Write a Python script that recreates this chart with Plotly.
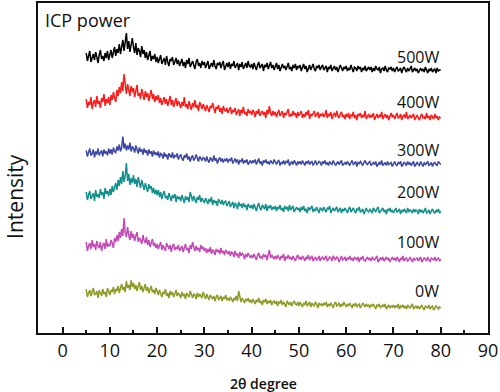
import numpy as np
import plotly.graph_objects as go

# 2-theta sampling grid (degrees), 5..80 in 0.25 steps
two_theta = np.arange(5.0, 80.0001, 0.25)

# Intensity of each sample (arbitrary units), 20 per 5 degrees
i_500W = [18, 10, 15, 20, 9, 13, 17, 11, 19, 14, 8, 16, 21, 12, 15, 10, 18, 13, 20, 11,
          16, 21, 13, 19, 24, 15, 22, 18, 27, 17, 25, 31, 20, 28, 38, 22, 30, 19, 26, 33,
          24, 18, 28, 16, 23, 20, 14, 25, 17, 21, 13, 19, 11, 16, 20, 10, 15, 12, 17, 9,
          14, 8, 12, 16, 7, 11, 13, 6, 15, 9, 5, 12, 10, 14, 6, 9, 13, 7, 11, 5,
          10, 12, 5, 9, 3, 11, 7, 13, 4, 8, 10, 6, 2, 9, 12, 5, 8, 3, 10, 6,
          9, 3, 7, 10, 2, 6, 8, 4, 11, 5, 2, 8, 6, 9, 3, 7, 10, 1, 6, 8,
          4, 9, 2, 7, 5, 10, 3, 6, 8, 1, 7, 4, 9, 2, 6, 8, 3, 10, 5, 4,
          7, 2, 8, 5, 1, 6, 9, 3, 5, 7, 0, 6, 4, 8, 2, 5, 9, 3, 6, 1,
          5, 8, 2, 6, 0, 4, 7, 3, 5, 1, 6, 8, 2, 4, 0, 6, 3, 7, 1, 5,
          3, 6, 0, 4, 7, 2, 5, -1, 3, 6, 1, 4, 7, 2, 0, 5, 3, 6, 1, 4,
          6, 1, 3, 5, -1, 4, 2, 6, 0, 3, 5, 1, 4, -1, 2, 6, 3, 0, 4, 2,
          5, 0, 3, 1, 6, 2, -1, 4, 3, 0, 5, 2, 4, -1, 3, 1, 5, 0, 2, 4,
          1, 4, -1, 3, 0, 5, 2, 1, 4, -2, 2, 3, 0, 5, 1, -1, 3, 2, 4, 0,
          3, -1, 2, 4, 0, 1, 3, -2, 2, 4, 1, -1, 3, 0, 2, 5, -1, 1, 3, 0,
          2, -2, 1, 3, 0, 2, -1, 4, 1, -2, 2, 0, 3, -1, 1, 2, -2, 3, 0, 1,
          1]
i_400W = [19, 10, 16, 13, 21, 9, 15, 18, 11, 22, 14, 17, 10, 20, 16, 24, 12, 19, 15, 21,
          13, 23, 18, 26, 20, 16, 28, 22, 31, 25, 36, 27, 44, 30, 24, 34, 28, 22, 32, 26,
          30, 21, 27, 33, 22, 25, 19, 29, 24, 18, 27, 21, 25, 17, 23, 28, 19, 24, 16, 22,
          18, 23, 15, 20, 13, 17, 21, 14, 19, 12, 16, 22, 13, 18, 11, 15, 20, 12, 17, 14,
          10, 16, 12, 21, 11, 14, 9, 17, 13, 8, 15, 11, 18, 10, 13, 7, 16, 12, 9, 14,
          11, 7, 13, 9, 6, 12, 10, 15, 8, 5, 11, 9, 13, 6, 10, 4, 12, 8, 7, 10,
          5, 9, 11, 4, 8, 6, 10, 3, 7, 9, 2, 8, 5, 11, 4, 6, 2, 9, 5, 7,
          3, 8, 6, 1, 7, 4, 9, 2, 5, 7, 3, 6, 0, 8, 4, 12, 5, 2, 7, 3,
          6, 1, 5, 8, 2, 4, 7, 0, 5, 3, 6, 9, 1, 4, 2, 7, 3, 5, 0, 6,
          2, 5, 7, 0, 4, 1, 6, 3, 8, -1, 4, 2, 5, 7, 1, 3, 6, 0, 4, 2,
          5, 1, 3, 8, 0, 4, 2, 6, -1, 3, 5, 1, 7, 2, 0, 4, 6, 1, 3, -1,
          4, 1, 5, -1, 3, 2, 6, 0, 3, -2, 4, 2, 5, 0, 3, 1, 7, -1, 2, 4,
          0, 3, 1, 5, -2, 2, 4, 0, 3, 1, 6, -1, 2, 4, 0, 3, -2, 2, 5, 1,
          3, -1, 2, 5, 0, 1, 4, -2, 2, 3, 0, 6, -1, 1, 3, 0, 2, 4, -2, 1,
          3, 0, -2, 2, 4, 0, 1, -1, 5, 0, 2, -2, 3, 1, -1, 4, 0, 2, -2, 1,
          0]
i_300W = [14, 8, 12, 16, 9, 11, 15, 7, 13, 10, 16, 9, 12, 14, 8, 15, 11, 13, 9, 16,
          11, 15, 10, 17, 13, 12, 18, 14, 20, 13, 17, 28, 16, 21, 14, 19, 15, 22, 13, 18,
          16, 12, 19, 14, 11, 17, 13, 15, 10, 16, 12, 14, 9, 15, 11, 13, 8, 14, 10, 12,
          9, 13, 7, 11, 10, 6, 12, 8, 10, 5, 11, 9, 7, 12, 6, 9, 8, 11, 5, 8,
          10, 6, 4, 9, 7, 11, 5, 8, 3, 7, 9, 4, 6, 10, 5, 3, 8, 6, 4, 7,
          6, 3, 8, 4, 2, 7, 5, 3, 9, 4, 6, 1, 5, 7, 3, 6, 2, 5, 4, 6,
          2, 5, 4, 7, 1, 3, 6, 2, 5, 0, 4, 3, 6, 1, 4, 2, 5, 0, 3, 4,
          1, 4, 2, 5, 0, 3, 6, 1, 3, -1, 4, 2, 5, 1, 3, 0, 4, 2, 1, 5,
          2, 0, 3, 4, -1, 2, 1, 4, 0, 3, 2, 5, -1, 1, 3, 0, 4, 2, -1, 3,
          1, 3, 0, 4, 2, -1, 3, 1, 4, 0, 2, 3, -1, 2, 4, 0, 1, 3, 2, -1,
          3, 1, 4, 0, 2, -1, 3, 1, 0, 4, 2, -1, 1, 3, 0, 2, 4, -1, 1, 2,
          0, 3, 1, -1, 2, 4, 0, 1, 3, -2, 2, 1, 3, 0, -1, 2, 4, 1, 0, 2,
          3, -1, 1, 2, 0, 3, -2, 1, 2, 0, 4, -1, 1, 2, -1, 3, 0, 1, 2, -2,
          1, 3, 0, -1, 2, 1, 3, -2, 0, 2, 1, -1, 3, 0, 2, -1, 1, 3, -2, 1,
          2, 0, -1, 3, 1, -2, 2, 0, 1, 3, -1, 0, 2, -2, 1, 2, 0, -1, 3, 1,
          0]
i_200W = [20, 12, 17, 21, 13, 16, 19, 11, 22, 15, 18, 14, 23, 17, 20, 13, 24, 18, 21, 16,
          23, 17, 26, 20, 24, 29, 22, 32, 26, 35, 28, 41, 30, 36, 49, 31, 38, 27, 34, 29,
          37, 28, 33, 25, 35, 30, 24, 32, 27, 22, 29, 25, 20, 28, 23, 26, 19, 24, 18, 22,
          17, 22, 15, 20, 13, 18, 21, 14, 16, 12, 19, 15, 11, 17, 14, 18, 10, 16, 13, 15,
          11, 17, 13, 9, 16, 12, 15, 10, 20, 14, 11, 16, 13, 9, 15, 12, 17, 10, 14, 12,
          9, 14, 11, 8, 13, 10, 15, 7, 12, 9, 11, 6, 13, 10, 8, 12, 7, 10, 11, 6,
          9, 11, 5, 8, 10, 4, 9, 7, 3, 10, 6, 8, 4, 9, 5, 7, 2, 8, 6, 4,
          7, 3, 8, 5, 1, 6, 9, 4, 2, 7, 5, 3, 8, 1, 6, 4, 7, 2, 5, 3,
          6, 1, 5, 3, 7, 2, 4, 0, 6, 3, 5, 1, 7, 2, 4, 6, 0, 3, 5, 2,
          4, 0, 5, 2, 6, 1, 3, -1, 5, 2, 4, 6, 0, 3, 1, 5, 2, -1, 4, 3,
          1, 5, 2, 0, 4, 3, 6, -1, 2, 4, 1, 3, 5, 0, 2, 4, -1, 3, 1, 4,
          2, -1, 3, 5, 0, 2, 4, 1, -1, 3, 2, 5, 0, 1, 3, -2, 2, 4, 1, 0,
          3, 1, -1, 4, 2, 0, 3, 5, -1, 1, 2, 4, 0, 2, -2, 3, 1, 4, 0, 2,
          -1, 2, 4, 0, 1, 3, -2, 2, 0, 3, 1, -1, 4, 0, 2, 1, -1, 3, 0, 2,
          1, -2, 3, 0, 2, -1, 1, 4, -1, 0, 2, -2, 1, 3, 0, -1, 2, 0, 3, -1,
          1]
i_100W = [18, 9, 14, 17, 11, 20, 13, 16, 10, 19, 14, 12, 18, 9, 15, 17, 11, 21, 13, 16,
          14, 20, 17, 12, 22, 18, 25, 19, 28, 22, 31, 24, 42, 27, 23, 33, 25, 20, 29, 22,
          26, 19, 24, 28, 18, 22, 20, 16, 25, 19, 17, 23, 15, 20, 13, 18, 21, 14, 17, 12,
          16, 11, 14, 18, 10, 15, 12, 9, 17, 13, 11, 15, 8, 14, 16, 10, 13, 11, 15, 9,
          12, 14, 8, 13, 16, 10, 12, 7, 15, 11, 18, 13, 9, 14, 10, 12, 8, 15, 11, 13,
          9, 12, 7, 11, 8, 13, 6, 10, 9, 5, 11, 8, 10, 6, 12, 7, 9, 5, 10, 8,
          6, 9, 4, 8, 7, 3, 9, 5, 6, 2, 8, 4, 7, 5, 1, 6, 3, 7, 4, 2,
          5, 2, 6, 3, 0, 5, 7, 2, 4, 1, 6, 3, 5, 0, 4, 10, 2, 5, 3, 1,
          4, 1, 5, 3, 0, 4, 2, 6, -1, 3, 2, 5, 1, 3, 0, 4, 2, -1, 3, 5,
          1, 3, 0, 4, 2, -1, 3, 1, 5, 0, 2, 4, -1, 2, 3, 0, 1, 4, -1, 2,
          3, 0, 2, 4, -1, 1, 3, 2, -1, 4, 1, 0, 3, 2, -2, 2, 4, 0, 1, 3,
          -1, 2, 1, 4, 0, 2, -1, 3, 1, 0, 3, -2, 2, 1, 4, 0, -1, 2, 3, 0,
          2, -1, 3, 1, 0, 2, 4, -2, 1, 2, 0, 3, -1, 1, 3, 0, 2, -2, 1, 3,
          0, 2, -1, 3, 1, -2, 2, 0, 4, -1, 1, 2, -1, 0, 3, 1, -2, 2, 0, 1,
          2, -1, 1, 3, -2, 0, 2, 1, -1, 3, 0, -2, 2, 1, 0, 3, -1, 1, 2, -1,
          1]
i_0W = [19, 11, 15, 18, 12, 16, 20, 13, 14, 17, 10, 18, 15, 12, 19, 14, 16, 11, 20, 15,
        13, 18, 16, 21, 14, 19, 17, 22, 15, 20, 24, 18, 21, 16, 27, 20, 23, 18, 28, 21,
        25, 19, 23, 17, 21, 26, 18, 22, 16, 20, 24, 17, 21, 15, 19, 22, 16, 18, 14, 20,
        17, 13, 18, 15, 11, 16, 14, 19, 12, 15, 10, 17, 13, 16, 11, 14, 18, 12, 15, 13,
        10, 16, 12, 14, 9, 15, 13, 11, 17, 12, 10, 14, 13, 9, 15, 11, 14, 12, 10, 16,
        12, 9, 14, 10, 8, 13, 11, 9, 12, 7, 11, 13, 8, 10, 12, 7, 11, 9, 13, 8,
        10, 7, 11, 9, 6, 10, 8, 12, 7, 17, 9, 6, 10, 8, 5, 9, 7, 10, 6, 8,
        5, 9, 7, 4, 8, 6, 10, 5, 7, 3, 8, 6, 9, 4, 7, 5, 8, 3, 6, 7,
        4, 7, 2, 6, 5, 8, 3, 6, 4, 1, 7, 5, 3, 6, 2, 5, 7, 4, 3, 6,
        2, 6, 4, 1, 5, 3, 7, 2, 4, 6, 1, 5, 3, 2, 6, 4, 0, 5, 3, 4,
        2, 5, 3, 6, 1, 4, 2, 5, 3, 0, 4, 6, 2, 3, 5, 1, 4, 2, 6, 3,
        1, 4, 2, 5, 3, 0, 4, 2, 5, 1, 3, 4, 0, 2, 5, 3, 1, 4, 2, 3,
        0, 3, 2, 4, 1, -1, 3, 2, 4, 0, 2, 3, 1, 4, -1, 2, 3, 0, 2, 1,
        3, 0, 2, 1, 4, -1, 2, 1, 3, 0, 2, -1, 3, 1, 0, 2, 4, -1, 1, 2,
        0, 2, -1, 1, 3, 0, -2, 2, 1, 0, 3, -1, 1, 2, -2, 0, 2, 1, -1, 1,
        0]

series_names = ["500W", "400W", "300W", "200W", "100W", "0W"]
series_values = [i_500W, i_400W, i_300W, i_200W, i_100W, i_0W]
series_offsets = [262, 215, 168.5, 121, 73, 25]
series_colors = ["#000000", "#ff1a1a", "#3d47a6", "#12918c", "#c449b6", "#8d9a26"]
label_heights = [276, 231, 183, 141, 91, 42]
x_ticks = [0, 10, 20, 30, 40, 50, 60, 70, 80, 90]

for name, vals in zip(series_names, series_values):
    if len(vals) != len(two_theta):
        raise ValueError(f"{name}: {len(vals)} values, expected {len(two_theta)}")

fig = go.Figure()
for name, vals, off, col in zip(series_names, series_values, series_offsets, series_colors):
    fig.add_trace(go.Scatter(
        x=two_theta, y=np.array(vals, dtype=float) + off,
        mode="lines", name=name,
        line=dict(color=col, width=1.5),
        showlegend=False,
    ))

for name, h in zip(series_names, label_heights):
    fig.add_annotation(x=80, y=h, text=name, showarrow=False,
                       xanchor="right", yanchor="middle",
                       font=dict(family="Open Sans", size=16, color="#111111"))

fig.add_annotation(x=0.01, y=0.949, xref="paper", yref="paper",
                   text="ICP power", showarrow=False,
                   xanchor="left", yanchor="middle",
                   font=dict(family="Open Sans", size=18, color="#111111"))

fig.add_annotation(x=-0.05, y=0.414, xref="paper", yref="paper",
                   text="Intensity", showarrow=False, textangle=-90,
                   xanchor="center", yanchor="middle",
                   font=dict(family="Open Sans", size=21, color="#111111"))

fig.add_annotation(x=0.5, y=-0.152, xref="paper", yref="paper",
                   text="2θ degree", showarrow=False,
                   xanchor="center", yanchor="middle",
                   font=dict(family="Open Sans", size=14, color="#111111", weight=600))

fig.update_layout(
    width=500, height=392,
    margin=dict(l=38, r=12, t=3, b=59),
    paper_bgcolor="white", plot_bgcolor="white",
    font=dict(family="Open Sans", color="#111111"),
    xaxis=dict(
        range=[-5.2, 90], tickmode="array",
        tickvals=x_ticks, ticktext=[str(t) for t in x_ticks],
        ticks="inside", ticklen=6, tickwidth=1.5, tickcolor="#111111",
        minor=dict(tickvals=[5, 15, 25, 35, 45, 55, 65, 75, 85],
                   ticks="inside", ticklen=3, tickwidth=1.5, tickcolor="#111111"),
        showline=True, linecolor="#111111", linewidth=2, mirror=True,
        showgrid=False, zeroline=False, automargin=False,
        tickfont=dict(size=18, family="Open Sans", color="#111111"),
    ),
    yaxis=dict(
        range=[0, 330], showticklabels=False, ticks="",
        showline=True, linecolor="#111111", linewidth=2, mirror=True,
        showgrid=False, zeroline=False, automargin=False,
    ),
)

fig.write_html("out.html", config={"displayModeBar": False},
               post_script="document.body.style.margin='0px';")
